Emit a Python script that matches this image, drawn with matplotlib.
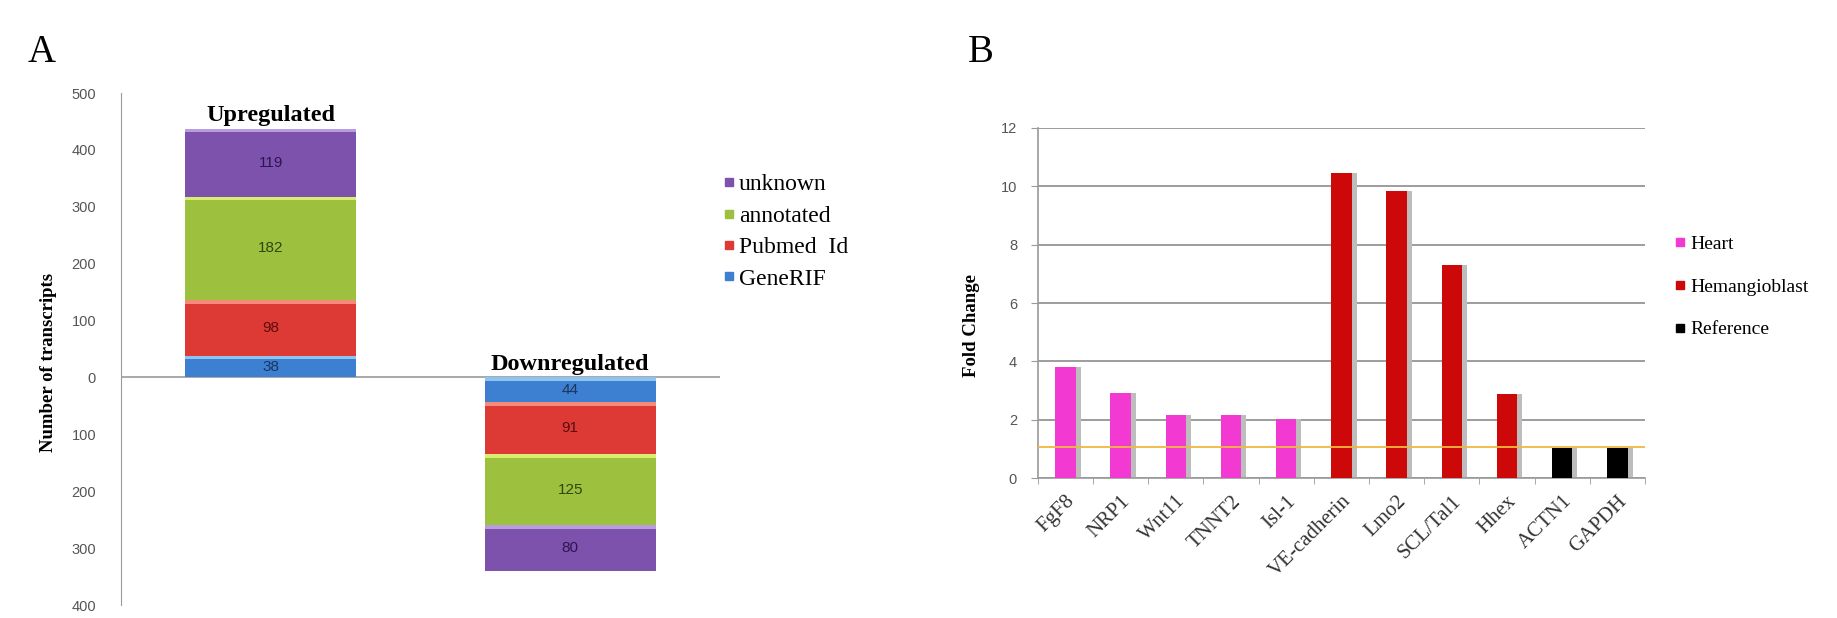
import numpy as np
import matplotlib.pyplot as plt
from matplotlib.lines import Line2D

plt.rcParams['font.family'] = ['Liberation Serif', 'DejaVu Serif']

# --- panel A data: transcripts by annotation class ---
groups_a = ["Upregulated", "Downregulated"]
direction = [1, -1]
classes = ["GeneRIF", "Pubmed  Id", "annotated", "unknown"]
generif = [38, 44]
pubmed = [98, 91]
annotated = [182, 125]
unknown = [119, 80]
a_ticks = [-400, -300, -200, -100, 0, 100, 200, 300, 400, 500]

# --- panel B data: fold change per gene ---
genes = ["FgF8", "NRP1", "Wnt11", "TNNT2", "Isl-1", "VE-cadherin", "Lmo2",
         "SCL/Tal1", "Hhex", "ACTN1", "GAPDH"]
fold = [3.8, 2.92, 2.17, 2.17, 2.02, 10.45, 9.85, 7.32, 2.88, 1.02, 1.02]
tissue = ["Heart"] * 5 + ["Hemangioblast"] * 4 + ["Reference"] * 2
ref_level = 1.05

cls_colors = ["#3d7fd0", "#dd3a36", "#9dc03e", "#7c52ad"]
cls_light = ["#8fc4f0", "#f58a78", "#d8ee70", "#b89be0"]
cls_text = ["#1b3560", "#5a0d0d", "#304510", "#2c1650"]
tissue_colors = {"Heart": "#f23ad2", "Hemangioblast": "#cc0808", "Reference": "#000000"}

fig = plt.figure(figsize=(18.37, 6.18), dpi=100)

# ================= Panel A =================
axA = fig.add_axes([0.0659, 0.021, 0.326, 0.8285])
series = [generif, pubmed, annotated, unknown]
x = np.arange(len(groups_a))
bw = 0.57
sign = np.array(direction)
base = np.zeros(len(groups_a))
for vals, c, cl, ct in zip(series, cls_colors, cls_light, cls_text):
    v = np.array(vals) * sign
    axA.bar(x, v, bw, bottom=base, color=c, edgecolor="none", zorder=2)
    # lighter strip on the upper edge of each segment (office gradient look)
    top = np.maximum(base, base + v)
    axA.bar(x, [-6] * len(x), bw, bottom=top, color=cl, edgecolor="none", zorder=3)
    for xi, b, vi, raw in zip(x, base, v, vals):
        axA.text(xi, b + vi / 2, str(raw), ha="center", va="center",
                 fontsize=11, color=ct, family=["Liberation Sans"], zorder=4)
    base = base + v

ups = np.array(generif) + np.array(pubmed) + np.array(annotated) + np.array(unknown)
axA.text(x[0], ups[0] + 5, groups_a[0], ha="center", va="bottom",
         fontsize=17.5, fontweight="bold")
axA.text(x[1], 5, groups_a[1], ha="center", va="bottom",
         fontsize=17.5, fontweight="bold")

axA.axhline(0, color="#9a9a9a", lw=1.2, zorder=1)
axA.set_xlim(-0.5, 1.5)
axA.set_ylim(-400, 500)
axA.set_yticks(a_ticks)
axA.set_yticklabels([str(abs(t)) for t in a_ticks], family=["Liberation Sans"],
                    fontsize=10.5, color="#555555")
axA.set_xticks([])
for s in ["top", "right", "bottom"]:
    axA.spines[s].set_visible(False)
axA.spines["left"].set_color("#9a9a9a")
axA.tick_params(axis="y", length=0, pad=18)
axA.set_ylabel("Number of transcripts", fontsize=13.5, fontweight="bold")
axA.yaxis.set_label_coords(-0.107, 0.473)

handles_a = [Line2D([], [], marker="s", ls="none", markersize=6,
                    markerfacecolor=c, markeredgecolor=c)
             for c in cls_colors][::-1]
fig.legend(handles_a, classes[::-1], loc="upper left", bbox_to_anchor=(0.381, 0.753),
           frameon=False, fontsize=17, handletextpad=0.05, labelspacing=0.42,
           handlelength=0.7)

fig.text(0.015, 0.9, "A", fontsize=28)

# ================= Panel B =================
axB = fig.add_axes([0.565, 0.2265, 0.3305, 0.5664])
xb = np.arange(len(genes))
bcols = [tissue_colors[t] for t in tissue]
axB.bar(xb + 0.09, fold, 0.37, color="#bdbdbd", edgecolor="none", zorder=2)
axB.bar(xb, fold, 0.37, color=bcols, edgecolor="none", zorder=3)
axB.axhline(ref_level, color="#f0b840", lw=1.3, zorder=4)

axB.set_xlim(-0.5, len(genes) - 0.5)
axB.set_ylim(0, 12)
axB.set_yticks(np.arange(0, 13, 2))
axB.set_yticklabels([str(t) for t in range(0, 13, 2)], family=["Liberation Sans"],
                    fontsize=10.5, color="#555555")
axB.grid(axis="y", color="#8c8c8c", lw=1.2, zorder=0)
axB.set_axisbelow(True)
axB.set_xticks(xb)
axB.set_xticklabels(genes, rotation=45, ha="right", rotation_mode="anchor",
                    fontsize=15, color="#333333")
axB.set_xticks(np.arange(-0.5, len(genes)), minor=True)
axB.tick_params(axis="x", which="major", length=0, pad=10)
axB.tick_params(axis="x", which="minor", length=4, color="#9a9a9a")
axB.tick_params(axis="y", length=5, color="#9a9a9a", pad=10)
for s in ["top", "right"]:
    axB.spines[s].set_visible(False)
axB.spines["left"].set_color("#9a9a9a")
axB.spines["bottom"].set_color("#9a9a9a")
axB.spines["left"].set_linewidth(1.2)
axB.spines["bottom"].set_linewidth(1.2)
axB.set_ylabel("Fold Change", fontsize=13.5, fontweight="bold")
axB.yaxis.set_label_coords(-0.095, 0.437)

tissue_names = ["Heart", "Hemangioblast", "Reference"]
handles_b = [Line2D([], [], marker="s", ls="none", markersize=6,
                    markerfacecolor=tissue_colors[t], markeredgecolor=tissue_colors[t])
             for t in tissue_names]
fig.legend(handles_b, tissue_names, loc="upper left", bbox_to_anchor=(0.901, 0.648),
           frameon=False, fontsize=14, handletextpad=0.1, labelspacing=1.3,
           handlelength=0.8)

fig.text(0.527, 0.9, "B", fontsize=28)

fig.savefig("out.png", dpi=100)
